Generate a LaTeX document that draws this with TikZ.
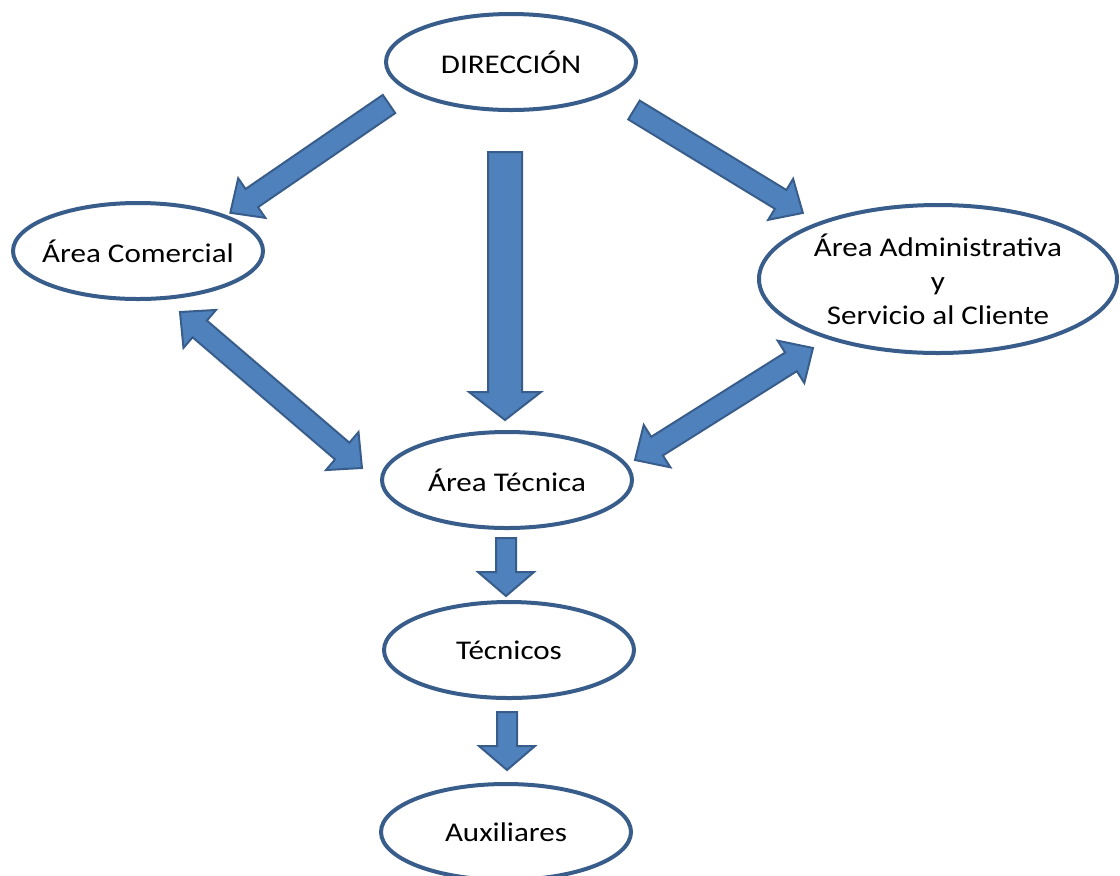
\documentclass[tikz,border=0pt]{standalone}
\usepackage{fontspec}
\setmainfont[FakeStretch=1.15]{Carlito}
\usetikzlibrary{shapes.geometric,calc}
\definecolor{borde}{RGB}{56,93,138}
\definecolor{relleno}{RGB}{79,129,189}
% #1 inicio, #2 punta, #3 medio ancho del cuerpo, #4 medio ancho de la punta, #5 largo de la punta
\newcommand{\flecha}[5]{%
  \draw[bloque] let \p1=(#1), \p2=(#2), \n1={atan2(\y2-\y1,\x2-\x1)}, \n2={veclen(\x2-\x1,\y2-\y1)} in
    [shift={(\p1)}, rotate=\n1]
    (0pt,-#3) -- ({\n2*1pt-#5},-#3) -- ({\n2*1pt-#5},-#4) -- ({\n2*1pt},0pt)
    -- ({\n2*1pt-#5},#4) -- ({\n2*1pt-#5},#3) -- (0pt,#3) -- cycle;}
\newcommand{\flechadoble}[5]{%
  \draw[bloque] let \p1=(#1), \p2=(#2), \n1={atan2(\y2-\y1,\x2-\x1)}, \n2={veclen(\x2-\x1,\y2-\y1)} in
    [shift={(\p1)}, rotate=\n1]
    (0pt,0pt) -- (#5,#4) -- (#5,#3) -- ({\n2*1pt-#5},#3) -- ({\n2*1pt-#5},#4) -- ({\n2*1pt},0pt)
    -- ({\n2*1pt-#5},-#4) -- ({\n2*1pt-#5},-#3) -- (#5,-#3) -- (#5,-#4) -- cycle;}
\begin{document}
\begin{tikzpicture}[x=0.5pt,y=-0.5pt,
  area/.style={ellipse,draw=borde,line width=2pt,fill=white,inner xsep=-30pt,inner ysep=-8pt,
    minimum width=125pt,minimum height=48pt,align=center,
    font=\fontsize{13.5}{17}\selectfont},
  bloque/.style={draw=borde,line width=1pt,fill=relleno,line join=miter}]
\useasboundingbox (0,0) rectangle (1120,875);
\node [area] (d) at (511,62) {DIRECCIÓN};
\node [area] (c) at (138,251) {Área Comercial};
\node [area,minimum width=179pt,minimum height=74pt] (a) at (938,279) {Área Administrativa\\y\\Servicio al Cliente};
\node [area] (t) at (507,480) {Área Técnica};
\node [area] (tc) at (509,650) {Técnicos};
\node [area] (x) at (506,832) {Auxiliares};
\coordinate (dc1) at (389,104);
\coordinate (dc2) at (230,213);
\coordinate (dt1) at (505,152);
\coordinate (dt2) at (505,420);
\coordinate (da1) at (634,110);
\coordinate (da2) at (803,213);
\coordinate (ct1) at (180,312);
\coordinate (ct2) at (362,468);
\coordinate (at1) at (813,348);
\coordinate (at2) at (635,460);
\coordinate (tt1) at (506,538);
\coordinate (tt2) at (506,596);
\coordinate (tx1) at (507,712);
\coordinate (tx2) at (507,770);
\flecha{dc1}{dc2}{5.5pt}{12pt}{13pt}
\flecha{dt1}{dt2}{8.5pt}{18pt}{14pt}
\flecha{da1}{da2}{5.5pt}{12pt}{13pt}
\flechadoble{ct1}{ct2}{5.5pt}{12.5pt}{13pt}
\flechadoble{at1}{at2}{5.5pt}{12.5pt}{13pt}
\flecha{tt1}{tt2}{5pt}{14pt}{12pt}
\flecha{tx1}{tx2}{5pt}{14pt}{12pt}
\end{tikzpicture}
\end{document}
